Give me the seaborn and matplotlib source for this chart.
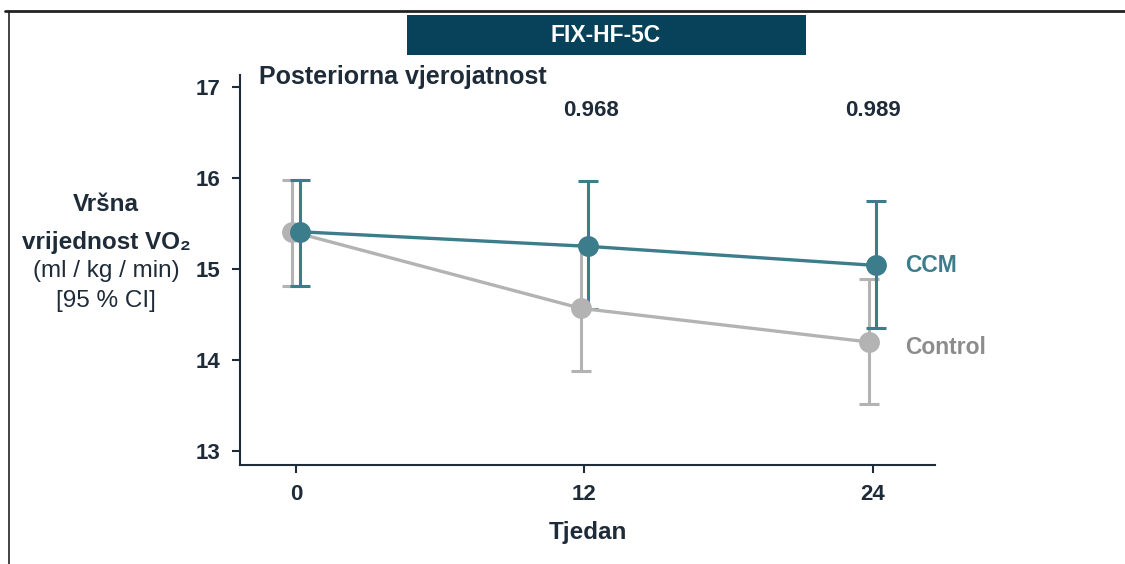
import pandas as pd
import seaborn as sns
import matplotlib.pyplot as plt
from matplotlib.lines import Line2D
from matplotlib.patches import Rectangle

weeks = [0, 12, 24]
ccm_mean = [15.41, 15.25, 15.04]
ccm_low = [14.81, 14.56, 14.35]
ccm_high = [15.98, 15.97, 15.75]
ctrl_mean = [15.41, 14.57, 14.20]
ctrl_low = [14.81, 13.88, 13.52]
ctrl_high = [15.98, 15.27, 14.89]
post_prob = ["0.968", "0.989"]

TEAL = "#3b7d8b"
GRAY = "#b3b3b3"
GRAY_TXT = "#8c8c8c"
DARK = "#1e2b38"
HEADER = "#07425a"

sns.set_theme(style="ticks")
plt.rcParams["font.family"] = ["Liberation Sans", "DejaVu Sans"]

fig = plt.figure(figsize=(11.25, 5.64), dpi=100)
ax = fig.add_axes([0.2133, 0.1755, 0.6178, 0.6915])

off = 0.15
df = pd.DataFrame({
    "week": [w + off for w in weeks] + [w - off for w in weeks],
    "value": ccm_mean + ctrl_mean,
    "group": ["CCM"] * 3 + ["Control"] * 3,
})

# control first so CCM sits on top
for grp, mean, lo, hi, col, sgn in [("Control", ctrl_mean, ctrl_low, ctrl_high, GRAY, -1),
                                    ("CCM", ccm_mean, ccm_low, ccm_high, TEAL, 1)]:
    xs = [w + sgn * off for w in weeks]
    yerr = [[m - l for m, l in zip(mean, lo)], [h - m for m, h in zip(mean, hi)]]
    ax.errorbar(xs, mean, yerr=yerr, fmt="none", ecolor=col, elinewidth=2.2,
                capsize=7, capthick=2.2, zorder=2)
    sns.lineplot(data=df[df.group == grp], x="week", y="value", ax=ax, color=col,
                 lw=2.4, marker="o", markersize=15, markeredgewidth=0, zorder=3)

ax.set_xlim(-2.33, 26.6)
ax.set_ylim(12.85, 17.13)
ax.set_xticks(weeks)
ax.set_yticks([13, 14, 15, 16, 17])
for s in ["top", "right"]:
    ax.spines[s].set_visible(False)
for s in ["left", "bottom"]:
    ax.spines[s].set_color(DARK)
    ax.spines[s].set_linewidth(1.5)
ax.tick_params(axis="both", colors=DARK, length=6, width=1.5, pad=8, labelsize=16)
for lab in ax.get_xticklabels() + ax.get_yticklabels():
    lab.set_fontweight("bold")
ax.set_xlabel("Tjedan", fontsize=17.5, fontweight="bold", color=DARK, labelpad=11)
ax.set_ylabel("")

ax.text(0.028, 1.025, "Posteriorna vjerojatnost", transform=ax.transAxes, fontsize=18,
        fontweight="bold", color=DARK, va="top", ha="left")
for w, p, dx in zip(weeks[1:], post_prob, [0.3, 0.0]):
    ax.text(w + dx, 16.74, p, ha="center", va="center", fontsize=16, fontweight="bold",
            color=DARK)

ax.text(25.35, ccm_mean[-1], "CCM", ha="left", va="center", fontsize=16.5,
        fontweight="bold", color=TEAL)
ax.text(25.35, ctrl_mean[-1] - 0.06, "Control", ha="left", va="center", fontsize=16.5,
        fontweight="bold", color=GRAY_TXT)

# y label block
yl = dict(ha="center", va="center", fontsize=17.5, color=DARK)
fig.text(106 / 1125, 1 - 205 / 564, "Vršna", fontweight="bold", **yl)
fig.text(106 / 1125, 1 - 242 / 564, "vrijednost VO₂", fontweight="bold", **yl)
fig.text(106 / 1125, 1 - 271 / 564, "(ml / kg / min)", **yl)
fig.text(106 / 1125, 1 - 301 / 564, "[95 % CI]", **yl)

# header box
fig.add_artist(Rectangle((407 / 1125, 1 - 55 / 564), 399 / 1125, 40 / 564,
                         transform=fig.transFigure, facecolor=HEADER, edgecolor="none"))
fig.text(606 / 1125, 1 - 35 / 564, "FIX-HF-5C", ha="center", va="center", fontsize=16.5,
         fontweight="bold", color="white")

# frame lines
fig.add_artist(Line2D([5 / 1125, 1], [1 - 11 / 564] * 2, transform=fig.transFigure,
                      color="#222222", lw=2))
fig.add_artist(Line2D([9 / 1125] * 2, [0, 1 - 11 / 564], transform=fig.transFigure,
                      color="#222222", lw=1.2))

fig.savefig("out.png", dpi=100)
